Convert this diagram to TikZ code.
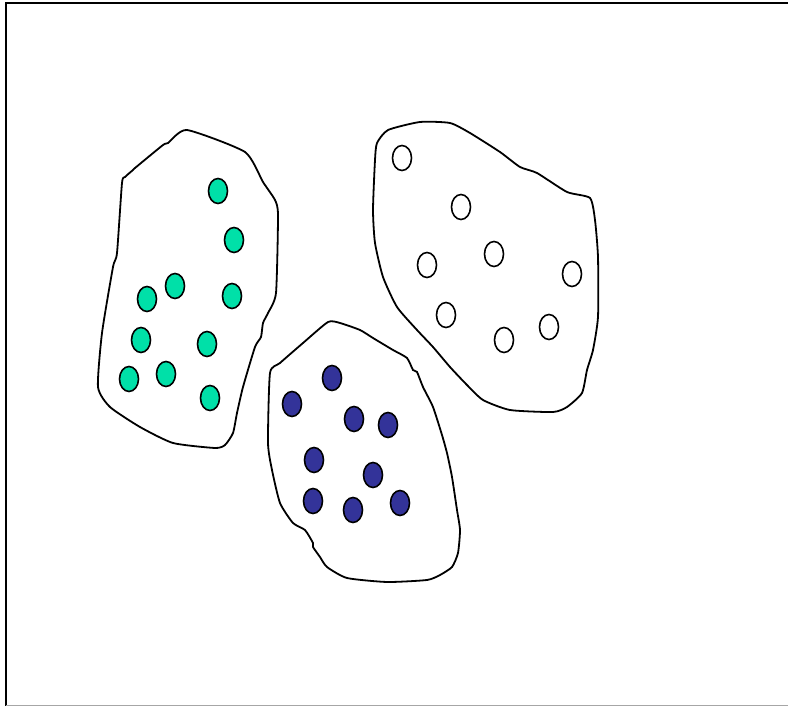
\documentclass[tikz,border=0pt]{standalone}
\usetikzlibrary{shapes.geometric}
\definecolor{dotgreen}{HTML}{00E0A8}
\definecolor{dotblue}{HTML}{333399}
\tikzset{
  blob/.style={draw=black, line width=1.8pt, fill=white},
  dotbase/.style={ellipse, draw=black, line width=1.6pt, minimum width=19pt, minimum height=25pt, inner sep=0pt},
  gdot/.style={dotbase, fill=dotgreen},
  bdot/.style={dotbase, fill=dotblue},
  wdot/.style={dotbase, fill=white},
}
\begin{document}
\begin{tikzpicture}[x=1pt,y=-1pt]
\useasboundingbox (0,0) rectangle (788,706);
% frame
\draw[line width=2pt] (6,706) -- (6,3.5) -- (788,3.5);
\draw[gray!70, line width=1pt] (6,705.5) -- (788,705.5);
% green blob
\draw[blob] plot[smooth cycle, tension=0.35] coordinates {
(187,130) (245,152) (263,182) (275,200) (278,215) (276,293) (268,313) (263,323) (261,337) (255,347)
(243,387) (237,413) (233,433) (225,445) (215,448) (173,443) (140,427) (110,407) (98,387)
(102,333) (113,267) (117,253) (122,183) (125,177) (133,170) (135,168) (163,145) (168,143)};
% blue blob
\draw[blob] plot[smooth cycle, tension=0.35] coordinates {
(328,322) (340,323) (360,330) (373,338) (393,350) (407,358) (413,370) (417,372) (423,387)
(433,407) (442,435) (447,453) (452,477) (457,510) (460,530) (458,553) (452,567) (440,575)
(427,580) (387,582) (347,578) (327,567) (320,557) (313,547) (313,543) (305,530) (293,523)
(280,503) (272,470) (268,443) (270,373) (280,363) (303,343)};
% white blob
\draw[blob] plot[smooth cycle, tension=0.35] coordinates {
(377,143) (388,130) (420,122) (450,123) (470,133) (500,152) (520,167) (537,173) (567,192)
(590,198) (595,220) (598,257) (598,317) (593,350) (587,370) (582,393) (567,407) (553,412)
(510,410) (483,400) (467,385) (450,367) (433,347) (417,330) (397,307) (383,277) (375,243)
(373,210) (375,160)};
% green dots
\node[gdot] (g1) at (218,191) {};
\node[gdot] (g2) at (234,240) {};
\node[gdot] (g3) at (175,286) {};
\node[gdot] (g4) at (147,299) {};
\node[gdot] (g5) at (232,296) {};
\node[gdot] (g6) at (141,340) {};
\node[gdot] (g7) at (207,344) {};
\node[gdot] (g8) at (129,379) {};
\node[gdot] (g9) at (166,374) {};
\node[gdot] (g10) at (210,398) {};
% blue dots
\node[bdot] (b1) at (332,378) {};
\node[bdot] (b2) at (292,404) {};
\node[bdot] (b3) at (354,419) {};
\node[bdot] (b4) at (388,425) {};
\node[bdot] (b5) at (314,460) {};
\node[bdot] (b6) at (373,475) {};
\node[bdot] (b7) at (313,501) {};
\node[bdot] (b8) at (353,510) {};
\node[bdot] (b9) at (400,503) {};
% white dots
\node[wdot] (w1) at (402,158) {};
\node[wdot] (w2) at (461,207) {};
\node[wdot] (w3) at (494,254) {};
\node[wdot] (w4) at (427,265) {};
\node[wdot] (w5) at (572,274) {};
\node[wdot] (w6) at (446,315) {};
\node[wdot] (w7) at (504,340) {};
\node[wdot] (w8) at (549,327) {};
\end{tikzpicture}
\end{document}
